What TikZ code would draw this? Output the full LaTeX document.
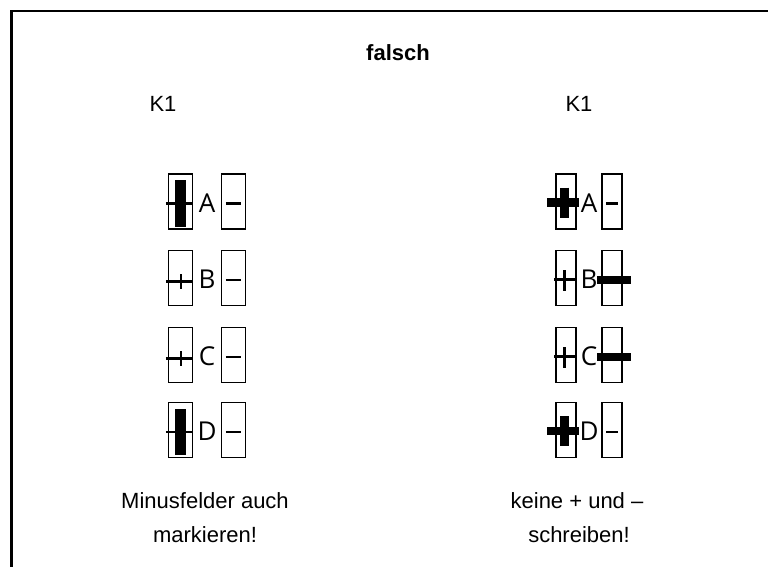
\documentclass[tikz,border=0pt]{standalone}
\usepackage{fontspec}
\setmainfont{Liberation Sans}
\newfontfamily\boxfont{Open Sans}
\usetikzlibrary{calc}
\begin{document}
\begin{tikzpicture}[x=1pt,y=-1pt,
  cell/.style={draw, line width=1.5pt, inner sep=0pt, minimum height=55pt},
  lcell/.style={cell, minimum width=24pt},
  rcell/.style={cell, minimum width=20pt},
  letter/.style={inner sep=0pt, font=\boxfont\fontsize{26}{26}\selectfont},
  thinmark/.style={line width=2.3pt},
  thickmark/.style={line width=8.5pt},
  txt/.style={inner sep=0pt, anchor=base, font=\fontsize{22}{26}\selectfont}
]
\useasboundingbox (0,0) rectangle (768,566);
\draw[line width=2.5pt] (11.5,580) -- (11.5,11) -- (780,11);

\node[txt, font=\bfseries\fontsize{22}{26}\selectfont] (title) at (398,60) {falsch};
\node[txt] (kl) at (163,111) {K1};
\node[txt] (kr) at (579,111) {K1};

\node[txt] (bl1) at (205,508) {Minusfelder auch};
\node[txt] (bl2) at (205,542) {markieren!};
\node[txt] (br1) at (577,508) {keine + und –};
\node[txt] (br2) at (579,542) {schreiben!};

\foreach \r/\y in {A/201.5,B/278,C/355,D/430} {
  \node[lcell] (lp\r) at (180.5,\y) {};
  \node[letter] (ll\r) at (207,\y+1.5) {\r};
  \node[lcell] (lm\r) at (233.5,\y) {};
  \node[rcell] (rp\r) at (566,\y) {};
  \node[letter] (rl\r) at (589,\y+1.5) {\r};
  \node[rcell] (rm\r) at (612,\y) {};
  % thin minus in left minus boxes
  \draw[thinmark] ($(lm\r.west)+(5,2)$) -- ($(lm\r.east)+(-5,2)$);
}

% left column: A and D filled, B and C thin plus
\foreach \r in {A,D} {
  \fill ($(lp\r.north)+(-5.5,7)$) rectangle ($(lp\r.south)+(5.5,-3)$);
  \draw[thinmark] ($(lp\r.west)+(-2,2)$) -- ($(lp\r.east)+(0,2)$);
}
\foreach \r in {B,C} {
  \draw[thinmark] ($(lp\r.west)+(-2,3.5)$) -- ($(lp\r.east)+(0,3.5)$);
  \draw[thinmark] ($(lp\r.center)+(0.5,-4)$) -- ($(lp\r.center)+(0.5,11)$);
}

% right column: A and D thick plus, B and C thin plus + thick minus
\foreach \r in {A,D} {
  \draw[thickmark] ($(rp\r.west)+(-8,1)$) -- ($(rp\r.east)+(2,1)$);
  \draw[thickmark] ($(rp\r.center)+(-1.5,-14)$) -- ($(rp\r.center)+(-1.5,16)$);
  \draw[thinmark] ($(rm\r.west)+(5,2)$) -- ($(rm\r.east)+(-5,2)$);
}
\foreach \r in {B,C} {
  \draw[thinmark] ($(rp\r.west)+(-1,1.5)$) -- ($(rp\r.east)+(0,1.5)$);
  \draw[thinmark] ($(rp\r.center)+(-1.5,-8)$) -- ($(rp\r.center)+(-1.5,13)$);
  \draw[thickmark] ($(rm\r.west)+(-4,2)$) -- ($(rm\r.east)+(8,2)$);
}
\end{tikzpicture}
\end{document}
